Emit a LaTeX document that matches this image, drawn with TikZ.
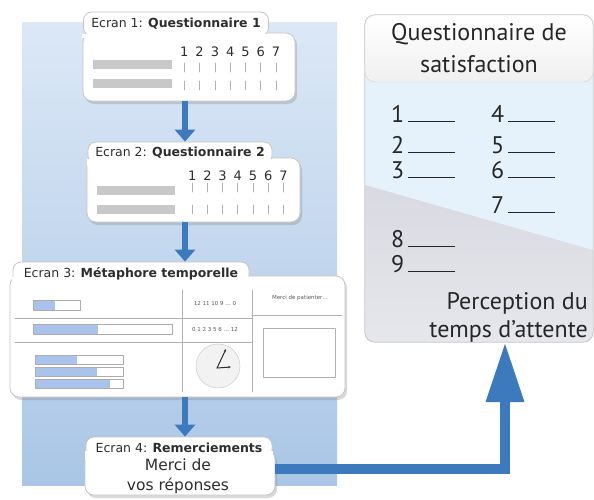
\documentclass[tikz,border=0pt]{standalone}
\usepackage{fontspec}
\setmainfont{DejaVu Sans}
\newfontfamily\cardfont{PT Sans}
\usetikzlibrary{arrows.meta, positioning, shadows, calc}

\definecolor{panelTop}{HTML}{DCE8F6}
\definecolor{panelBot}{HTML}{AAC6E6}
\definecolor{flowBlue}{HTML}{3C7ABD}
\definecolor{barGray}{HTML}{C8C8C8}
\definecolor{barBlue}{HTML}{A9C3EC}
\definecolor{cardBlue}{HTML}{E6F2FB}
\definecolor{cardGrayA}{HTML}{D9DAE1}
\definecolor{cardGrayB}{HTML}{C3C6D0}
\definecolor{cardGrayC}{HTML}{E6E7EC}
\definecolor{inkGray}{HTML}{2E2E2E}

\begin{document}
\begin{tikzpicture}[
    x=1pt, y=-1pt,
    line cap=round,
    line join=round,
    screen/.style={draw=gray!45, fill=white, line width=0.8pt, rounded corners=9pt,
        drop shadow={shadow xshift=2pt, shadow yshift=-3pt, opacity=0.3}},
    tab/.style={draw=gray!45, fill=white, line width=0.8pt, rounded corners=8pt},
    tablbl/.style={text=inkGray, inner sep=0pt, font=\fontsize{12.5}{14}\selectfont},
    num/.style={text=inkGray, inner sep=0pt, font=\fontsize{13}{15}\selectfont},
    tick/.style={gray!60, line width=0.8pt},
    tiny/.style={text=gray!70!black, inner sep=0pt, font=\fontsize{5.5}{6}\selectfont},
    flow/.style={flowBlue, line width=6pt, line cap=butt, -{Triangle[width=20pt,length=12pt]}},
    bigflow/.style={flowBlue, line width=10pt, line cap=butt, line join=miter,
        -{Triangle[width=36pt,length=60pt]}},
    cardtxt/.style={text=black!85, inner sep=0pt, font=\cardfont\fontsize{24}{32}\selectfont}
]

% --- Frame ---
\useasboundingbox (0,0) rectangle (594,499);
\shade[top color=panelTop, bottom color=panelBot] (22,22) rectangle (337,485);

\coordinate (ax) at (185,0); % axis of the small arrows
\coordinate (bx) at (505,0); % axis of the big arrow

% --- Card: questionnaire de satisfaction ---
\node[minimum width=228pt, minimum height=327pt, inner sep=0pt] (card) at (479,178.5) {};
\begin{scope}
    \clip[rounded corners=10pt] (card.north west) rectangle (card.south east);
    \fill[cardBlue] (card.north west) rectangle (card.south east);
    \shade[top color=cardGrayA, middle color=cardGrayB, bottom color=cardGrayC]
        (365,185) -- (593,250) -- (593,342) -- (365,342) -- cycle;
\end{scope}
\draw[gray!45, line width=0.8pt, rounded corners=10pt] (card.north west) rectangle (card.south east);
\node[cardtxt, draw=gray!35, rounded corners=10pt, top color=white, bottom color=gray!12,
    minimum width=228pt, minimum height=67pt, align=center] (head) at (479,48.5)
    {Questionnaire de\\satisfaction};

\foreach \n/\xx/\yy in {1/391/122, 2/391/153, 3/391/178, 4/491/122, 5/491/153,
                        6/491/178, 7/491/213, 8/391/247, 9/391/272}
    \node[cardtxt, anchor=base west] (r\n) at (\xx,\yy) {\n\,\rule{47pt}{1.2pt}};

\node[cardtxt, anchor=base east] (perc) at (588,309) {Perception du};
\node[cardtxt, anchor=base east] (wait) at (588,337) {temps d’attente};

% --- Ecran 1 ---
\node[screen, minimum width=212pt, minimum height=68pt] (s1) at (189,67) {};
\node[tab, minimum width=185pt, minimum height=24pt] (t1) at (176,24) {};
\fill[white] ($(t1.west |- s1.north)+(-1pt,-1.2pt)$) rectangle ($(t1.south east)+(1pt,-1.2pt)$);
\node[tablbl] (t1l) at (t1) {Ecran 1: \textbf{Questionnaire 1}};
\foreach \i in {1,...,7} {
    \node[num] (a\i) at ({169+15.3*\i},52) {\i};
    \draw[tick] ({169+15.3*\i},63) -- ++(0,9);
    \draw[tick] ({169+15.3*\i},81) -- ++(0,9);
}
\fill[barGray] (93,60) rectangle (172,69);
\fill[barGray] (93,79) rectangle (172,88);

% --- Ecran 2 ---
\node[screen, minimum width=213pt, minimum height=64pt] (s2) at (193.5,190) {};
\node[tab, minimum width=184pt, minimum height=22pt] (t2) at (180,153) {};
\fill[white] ($(t2.west |- s2.north)+(-1pt,-1.2pt)$) rectangle ($(t2.south east)+(1pt,-1.2pt)$);
\node[tablbl] (t2l) at (t2) {Ecran 2: \textbf{Questionnaire 2}};
\foreach \i in {1,...,7} {
    \node[num] (b\i) at ({177+15.2*\i},176) {\i};
    \draw[tick] ({177+15.2*\i},183) -- ++(0,9);
    \draw[tick] ({177+15.2*\i},205) -- ++(0,9);
}
\fill[barGray] (97,186) rectangle (175,195);
\fill[barGray] (97,205) rectangle (175,214);

% --- Ecran 3 ---
\node[screen, minimum width=335pt, minimum height=121pt] (s3) at (177.5,336.5) {};
\node[tab, minimum width=236pt, minimum height=24pt] (t3) at (131,274) {};
\fill[white] ($(t3.west |- s3.north)+(-1pt,-1.2pt)$) rectangle ($(t3.south east)+(1pt,-1.2pt)$);
\node[tablbl] (t3l) at (t3) {Ecran 3: \textbf{Métaphore temporelle}};

\draw[gray!60, line width=0.7pt] (182,290) -- (182,392) (252,290) -- (252,392);
\draw[gray!60, line width=0.7pt] (15,318) -- (252,318) (15,342) -- (252,342) (252,315) -- (342,315);
\draw[gray!60, line width=0.8pt] (263,328) rectangle (335,377);

% progress bars
\foreach \xa/\xb/\ya/\yb/\xf in {33/80/300/310/55, 33/172/324/334/98, 35/123/355/364/77,
                                 35/123/367/376/97, 35/123/379/388/110} {
    \fill[white] (\xa,\ya) rectangle (\xb,\yb);
    \fill[barBlue] (\xa,\ya) rectangle (\xf,\yb);
    \draw[gray!65, line width=0.6pt] (\xa,\ya) rectangle (\xb,\yb);
}

% countdown, clock
\node[tiny] (down) at (215,303) {12 11 10 9 … 0};
\node[tiny] (up) at (215,329) {0 1 2 3 5 6 … 12};
\node[tiny] (pls) at (300,298) {Merci de patienter…};
\draw[gray!45, fill=gray!10] (218,366) circle[radius=22];
\draw[inkGray, line width=1pt, -{Stealth[length=3pt]}] (217,368) -- (226,349);
\draw[inkGray, line width=1pt, -{Stealth[length=3pt]}] (217,368) -- (231,367);

% --- Ecran 4 ---
\node[screen, minimum width=190pt, minimum height=45pt] (s4) at (180,472.5) {};
\node[tab, minimum width=186pt, minimum height=21pt] (t4) at (179,447.5) {};
\fill[white] ($(t4.west |- s4.north)+(-1pt,-1.2pt)$) rectangle ($(t4.south east)+(1pt,-1.2pt)$);
\node[tablbl] (t4l) at (t4) {Ecran 4: \textbf{Remerciements}};
\node[text=inkGray, align=center, inner sep=0pt, font=\fontsize{15.5}{20}\selectfont]
    (thx) at (178,476) {Merci de\\vos réponses};

% --- Arrows ---
\draw[flow] (s1.south -| ax) -- (t2.north -| ax);
\draw[flow] (s2.south -| ax) -- (t3.north -| ax);
\draw[flow] (s3.south -| ax) -- (t4.north -| ax);
\draw[bigflow] ([yshift=4pt]s4.east) -| (card.south -| bx);

\end{tikzpicture}
\end{document}
